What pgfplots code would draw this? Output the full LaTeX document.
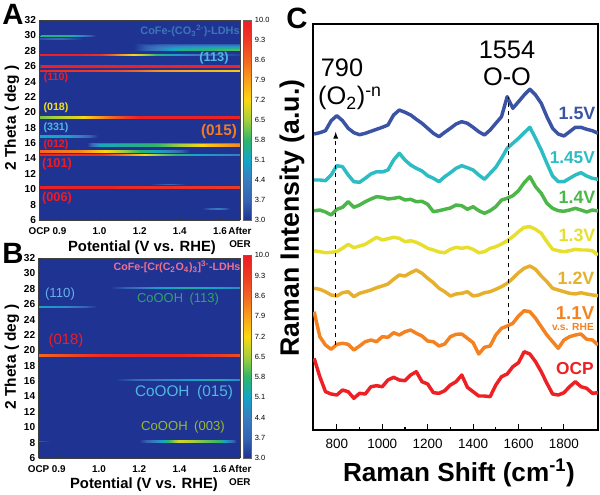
\documentclass[border=0pt]{standalone}
\usepackage{fontspec}
\setmainfont{Liberation Sans}
\usepackage{pgfplots}
\usepackage{pgfplotstable}
\pgfplotsset{compat=1.18}

\newcommand{\fs}[1]{\fontsize{#1}{#1}\selectfont}
\definecolor{navy}{RGB}{31,52,146}

% one diffraction band: centre 2theta, half width, list of position/value
\newcommand{\band}[3]{%
  \pgfmathsetmacro\ylo{#1-#2}\pgfmathsetmacro\yhi{#1+#2}%
  \pgfmathsetmacro\cla{#1-0.4*#2}\pgfmathsetmacro\chi{#1+0.4*#2}%
  \gdef\rowa{}\gdef\rowb{}\gdef\rowc{}\gdef\rowd{}%
  \foreach \x/\v in {#3}{%
    \xdef\rowa{\rowa(\x,\ylo,3)}%
    \xdef\rowb{\rowb(\x,\cla,\v)}%
    \xdef\rowc{\rowc(\x,\chi,\v)}%
    \xdef\rowd{\rowd(\x,\yhi,3)}}%
  \edef\temp{\noexpand\addplot3[surf,shader=interp,mesh/rows=4] coordinates {\rowa\rowb\rowc\rowd};}\temp}

% text placed by picture pixel
\newcommand{\tx}[4][]{\node[inner sep=0pt,#1] at ({#2*0.75pt},{(494-#3)*0.75pt}) {#4};}

\pgfplotsset{
  heat/.style={
    scale only axis, view={0}{90},
    xmin=0, xmax=10, ymin=6, ymax=32,
    axis background/.style={fill=navy},
    axis on top,
    point meta min=3, point meta max=10,
    colormap={spec}{rgb255(0)=(31,52,146); rgb255(7)=(52,100,180); rgb255(14)=(58,124,192); rgb255(21)=(20,165,200); rgb255(28)=(47,181,106); rgb255(35)=(165,207,60); rgb255(42)=(252,216,15); rgb255(49)=(248,160,28); rgb255(56)=(242,101,34); rgb255(63)=(238,58,36); rgb255(70)=(237,28,36)},
    xtick={0,1,3,5,7,9,10},
    xticklabels={OCP,0.9,1.0,1.2,1.4,1.6,{After\\[2pt]OER}},
    ytick={6,8,...,32},
    tick align=inside, major tick length=1.5pt,
    tick style={black!80,line width=0.4pt},
    xtick pos=bottom, ytick pos=left,
    xticklabel style={font=\bfseries\fs{7.4}, align=center, yshift=-2pt},
    yticklabel style={font=\bfseries\fs{7.6}, /pgf/number format/assume math mode=true, xshift=1pt},
    axis line style={black!75,line width=0.5pt},
    colorbar,
    colorbar style={
      at={(1.017,0)}, anchor=south west, width=5.6pt,
      ytick={3,3.7,4.4,5.1,5.8,6.5,7.2,7.9,8.6,9.3,10},
      major tick length=0pt,
      yticklabel style={font=\fs{5.6}, /pgf/number format/assume math mode=true,
        /pgf/number format/fixed, /pgf/number format/fixed zerofill, /pgf/number format/precision=1, xshift=-0.5pt},
      axis line style={black!60,line width=0.3pt}},
  }}

\pgfplotstableread{
x    ocp    v11    v12    v13    v14    v145   v15
700  135.7  182.3  205.7  243.3  283.3  314.0  360.0
725  117.3  157.3  204.7  242.3  284.0  314.0  361.3
750  102.3  149.0  202.3  241.3  282.0  313.3  363.3
775  100.0  144.7  199.0  241.7  279.0  319.0  373.3
800   99.0  149.7  198.0  242.3  284.7  328.3  378.3
825  104.0  150.7  201.3  245.7  286.7  327.3  373.3
850  102.3  149.7  202.3  249.7  292.3  319.0  365.7
875   95.7  144.0  197.3  246.3  286.7  312.3  361.3
900  100.7  148.0  200.7  248.0  289.0  311.7  359.3
925  100.0  152.3  202.3  249.7  292.3  315.7  360.7
950  107.3  154.0  204.0  253.3  295.0  320.0  362.7
975  108.3  152.3  206.3  256.7  297.3  322.3  364.7
1000 107.3  157.3  208.0  254.0  296.7  322.0  366.7
1025 114.0  156.7  210.0  255.3  295.0  324.0  369.0
1050 116.7  161.3  214.7  256.7  295.7  334.0  379.0
1075 114.0  159.0  219.0  255.7  296.7  340.7  384.0
1100 113.3  162.3  218.0  252.3  294.0  334.0  381.7
1125 119.0  164.0  221.3  253.3  294.7  329.0  379.0
1150 122.3  160.7  224.0  251.7  292.3  325.7  374.7
1175 112.3  158.0  220.7  249.0  292.7  323.0  370.7
1200 110.0  153.0  215.7  245.7  289.7  318.3  365.7
1225 101.3  152.3  211.3  244.0  282.3  315.7  360.7
1250 100.7  148.0  205.7  242.0  283.3  312.3  357.3
1275 103.3  150.0  202.3  241.3  284.7  317.3  361.7
1300 109.0  157.3  198.0  244.7  286.0  321.3  365.7
1325 112.3  159.7  200.0  246.7  289.0  325.7  370.0
1350 119.0  160.0  200.7  245.7  288.3  328.3  372.3
1375 106.7  155.7  202.3  246.7  284.7  326.3  370.7
1400 102.3  151.3  198.0  244.7  287.3  324.0  366.7
1425  98.0  140.0  199.0  241.3  283.3  319.0  362.3
1450  98.0  146.7  201.3  242.3  280.7  314.7  359.0
1475  97.3  148.0  202.3  245.7  283.3  320.7  364.0
1500 109.0  159.0  204.7  247.3  287.3  326.7  370.7
1525 117.3  165.7  207.3  250.0  294.0  335.7  377.3
1550 120.0  168.0  210.7  253.3  295.7  345.7  397.3
1575 127.3  170.7  215.7  257.3  298.3  350.7  385.7
1600 131.3  178.0  221.3  262.3  303.3  355.7  392.3
1625 142.3  183.3  225.7  266.7  311.3  361.3  399.0
1650 140.0  182.3  228.0  267.3  317.3  366.7  404.7
1675 132.3  175.7  224.7  264.7  307.3  355.7  399.0
1700 122.3  167.3  218.0  260.7  300.7  344.0  390.7
1725 110.7  159.0  212.3  252.3  290.7  330.7  377.3
1750 100.0  152.3  205.7  244.7  285.7  318.0  365.7
1775  99.0  145.7  204.0  243.3  283.3  312.3  360.0
1800 101.3  154.0  202.3  242.3  282.7  312.3  358.0
1825 107.3  157.3  200.7  243.3  284.0  315.7  362.3
1850 112.3  159.0  200.0  244.7  285.7  319.0  366.7
1875 107.3  160.0  201.3  244.0  284.0  321.3  366.7
1900 105.7  154.7  200.0  244.0  282.0  318.0  364.7
1925 100.7  154.0  199.0  243.3  284.0  315.7  363.3
1950 101.3  149.0  198.3  239.0  283.0  314.7  360.7
}\raman

\begin{document}
\begin{tikzpicture}
\path[use as bounding box] (0,0) rectangle (450pt,370.5pt);

% panel A
\begin{axis}[heat, at={(29.5pt,205.5pt)}, anchor=south west, width=150.5pt, height=150pt,
  colorbar style={height=150pt}]
\band{30.0}{.14}{0/5.6,1.5/5.6,2/4.8,2.8/3}
\band{29.6}{.1}{0/3.4,1/3.9,2.2/3}
\addplot3[surf,shader=interp,mesh/rows=5] coordinates {
  (4.7,28.0,3)(5.5,28.0,3)(7,28.0,3)(10,28.0,3)
  (4.7,28.12,3)(5.5,28.12,3.9)(7,28.12,5.6)(10,28.12,6.0)
  (4.7,28.28,3)(5.5,28.28,3.9)(7,28.28,5.6)(10,28.28,6.0)
  (4.7,28.6,3)(5.5,28.6,3.8)(7,28.6,4.6)(10,28.6,4.8)
  (4.7,29.0,3)(5.5,29.0,3)(7,29.0,3)(10,29.0,3)};
\band{27.5}{.22}{0/9.9,2/9.9,3/9.5,4/8,5/6.8,6/5.6,7.5/4.5,9/3.5,10/3.2}
\band{26.0}{.27}{0/9.9,3/9.9,10/9.8}
\band{25.4}{.2}{0/9.8,4/9,6/8,10/7.4}
\band{19.4}{.2}{0/6.2,2/7,3.5/8.5,5/9.9,10/9.9}
\band{16.9}{.26}{0/5.2,1.5/5,2.2/4.2,2.9/3}
\band{15.8}{.36}{2.4/3,3/5.2,5/5.6,6/5.9,7.5/6.8,8.5/7.5,10/8.2}
\band{14.95}{.23}{0/8.6,2/8.2,3.5/7,5/5.8,6.5/4.5,7.5/3}
\band{14.5}{.2}{0/9.9,3/9.5,4.5/8,6/6.3,8/5,10/4.4}
\band{10.3}{.26}{0/9.9,3.5/9.9,4/9.7,10/9.3}
\band{10.65}{.08}{5.5/3,6.5/3.9,7.3/3}
\band{7.5}{.12}{8.1/3,8.9/4.4,9.5/3}
\end{axis}

% panel B
\begin{axis}[heat, at={(28.9pt,27pt)}, anchor=south west, width=151pt, height=150pt,
  colorbar style={height=152pt}]
\band{28.2}{.2}{3.5/3,5/4.2,6/5,7.5/5.4,9/5,10/4.6}
\band{25.7}{.18}{0/5,1.3/4.7,2.2/3.8,2.9/3}
\band{19.4}{.22}{0/8.6,2/9.2,3/9.6,5/9.9,7/9.8,10/9}
\band{16.25}{.18}{3.8/3,5/3.9,7/4.8,8/5.2,9/5.4,10/4.6}
\band{8.2}{.26}{5/3,6/4.8,7/6.9,8/6.3,9/5.8,9.8/3.2}
\band{8.2}{.1}{0/3.6,.6/3}
\end{axis}

% panel C
\begin{axis}[at={(234.75pt,48pt)}, anchor=south west, scale only axis, width=213.75pt, height=304.5pt,
  xmin=695, xmax=1950, ymin=64, ymax=470,
  ytick=\empty, xtick={800,1000,...,1800}, minor x tick num=1,
  xtick pos=bottom, tick align=inside, major tick length=4.5pt, minor tick length=2.5pt,
  tick style={black,line width=0.8pt},
  xticklabel style={font=\fs{10.1}, /pgf/number format/assume math mode=true, /pgf/number format/set thousands separator={}, yshift=-3pt},
  axis line style={black,line width=1.2pt},
  every axis plot/.append style={line width=2.6pt,line join=round}]
\addplot[color={rgb,255:red,237;green,32;blue,36}] table[x=x,y=ocp] {\raman};
\addplot[color={rgb,255:red,245;green,130;blue,32}] table[x=x,y=v11] {\raman};
\addplot[color={rgb,255:red,230;green,176;blue,44}] table[x=x,y=v12] {\raman};
\addplot[color={rgb,255:red,230;green,224;blue,44}] table[x=x,y=v13] {\raman};
\addplot[color={rgb,255:red,76;green,183;blue,72}] table[x=x,y=v14] {\raman};
\addplot[color={rgb,255:red,43;green,188;blue,196}] table[x=x,y=v145] {\raman};
\addplot[color={rgb,255:red,58;green,83;blue,164}] table[x=x,y=v15] {\raman};
\addplot[black,line width=0.7pt,dashed,-latex] coordinates {(795,149) (795,362)};
\addplot[black,line width=0.7pt,dashed] coordinates {(1554,155) (1554,397)};
\end{axis}

% panel letters
\tx{13}{14}{\bfseries\fs{22}A}
\tx{13}{253}{\bfseries\fs{22}B}
\tx{297}{18}{\bfseries\fs{22}C}

% axis titles
\tx[rotate=90]{12}{118}{\bfseries\fs{11.6}2 Theta ( deg )}
\tx[rotate=90]{12}{357}{\bfseries\fs{11.6}2 Theta ( deg )}
\tx{142}{248}{\bfseries\fs{11.1}Potential (V vs. RHE)}
\tx{144}{485}{\bfseries\fs{11.1}Potential (V vs. RHE)}
\tx[rotate=90]{292}{218}{\bfseries\fs{20}Raman Intensity (a.u.)}
\tx{459}{473}{\bfseries\fs{19.6}Raman Shift (cm\textsuperscript{-1})}

% panel A notes
\tx{190}{31}{\color[RGB]{61,116,184}\bfseries\fs{8.2}CoFe-(CO\textsubscript{3}\textsuperscript{2-})-LDHs}
\tx{214}{58}{\color[RGB]{79,184,224}\bfseries\fs{9.6}(113)}
\tx{56}{78}{\color[RGB]{237,28,36}\bfseries\fs{8}(110)}
\tx{56}{108}{\color[RGB]{248,224,20}\bfseries\fs{8}(018)}
\tx{56}{128}{\color[RGB]{79,184,224}\bfseries\fs{8}(331)}
\tx{56}{145}{\color[RGB]{237,28,36}\bfseries\fs{8}(012)}
\tx{219}{132}{\color[RGB]{244,122,32}\bfseries\fs{11.5}(015)}
\tx{57}{164}{\color[RGB]{237,28,36}\bfseries\fs{9.6}(101)}
\tx{57}{198}{\color[RGB]{237,28,36}\bfseries\fs{9.6}(006)}

% panel B notes
\tx{177}{267}{\color[RGB]{240,112,138}\bfseries\fs{8}CoFe-[Cr(C\textsubscript{2}O\textsubscript{4})\textsubscript{3}]\textsuperscript{3-}-LDHs}
\tx{60}{294}{\color[RGB]{106,176,232}\fs{9.9}(110)}
\tx{178}{299}{\color[RGB]{47,163,106}\fs{9.7}CoOOH\enspace(113)}
\tx{66}{341}{\color[RGB]{237,28,36}\fs{11.2}(018)}
\tx{184}{393}{\color[RGB]{79,184,224}\fs{11.5}CoOOH\enspace(015)}
\tx{183}{427}{\color[RGB]{154,184,46}\fs{9.8}CoOOH\enspace(003)}

% panel C notes
\tx{342}{68}{\fs{19}790}
\tx{350}{98}{\fs{19}(O\textsubscript{2})\textsuperscript{-n}}
\tx{507}{50}{\fs{19}1554}
\tx{507}{77}{\fs{19}O-O}
\tx{577}{113}{\color[RGB]{58,83,164}\bfseries\fs{13.4}1.5V}
\tx[anchor=east]{595}{158}{\color[RGB]{43,188,196}\bfseries\fs{12.9}1.45V}
\tx{577}{197}{\color[RGB]{76,183,72}\bfseries\fs{13.4}1.4V}
\tx{577}{235}{\color[RGB]{230,224,44}\bfseries\fs{13.4}1.3V}
\tx{576}{278}{\color[RGB]{230,176,44}\bfseries\fs{13.4}1.2V}
\tx{575}{313}{\color[RGB]{245,130,32}\bfseries\fs{14}1.1V}
\tx{573}{327}{\color[RGB]{245,130,32}\bfseries\fs{7.7}v.s. RHE}
\tx{575}{369}{\color[RGB]{237,32,36}\bfseries\fs{13}OCP}
\end{tikzpicture}
\end{document}
